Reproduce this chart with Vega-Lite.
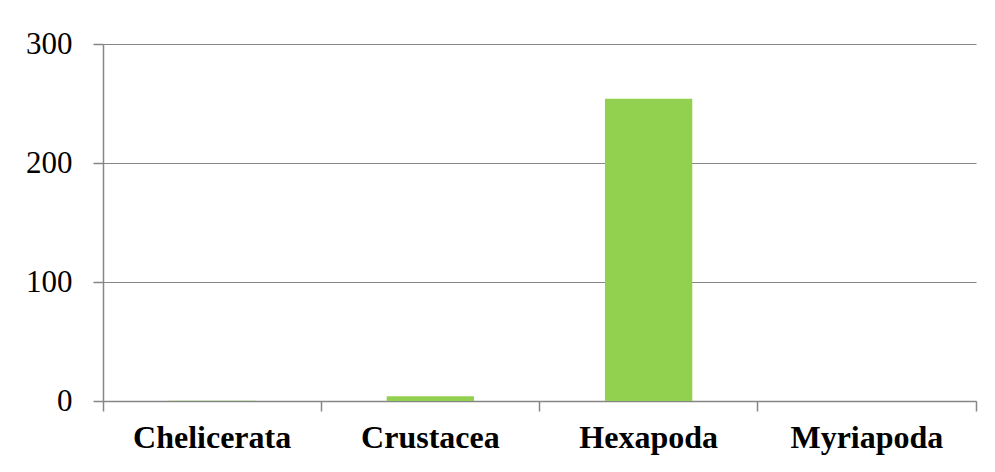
{
  "$schema": "https://vega.github.io/schema/vega-lite/v6.json",
  "width": 873,
  "height": 357,
  "autosize": {"type": "none"},
  "padding": {"left": 103, "top": 44, "right": 19, "bottom": 71},
  "background": "white",
  "data": {"values": [
    {"group": "Chelicerata", "count": 0.3},
    {"group": "Crustacea", "count": 4},
    {"group": "Hexapoda", "count": 254},
    {"group": "Myriapoda", "count": 0}
  ]},
  "mark": {"type": "bar", "color": "#92D050", "width": {"band": 0.4}},
  "encoding": {
    "x": {
      "field": "group", "type": "nominal", "sort": null,
      "scale": {"paddingInner": 0, "paddingOuter": 0},
      "axis": {
        "title": null, "labelAngle": 0,
        "labelFont": "Liberation Serif", "labelFontSize": 32, "labelFontWeight": "bold",
        "labelColor": "#000000", "labelPadding": 11,
        "domainColor": "#868686", "domainWidth": 1.5,
        "tickColor": "#868686", "tickWidth": 1.5, "tickSize": 10,
        "bandPosition": 1, "tickExtra": true
      }
    },
    "y": {
      "field": "count", "type": "quantitative",
      "scale": {"domain": [0, 300], "nice": false},
      "axis": {
        "title": null, "values": [0, 100, 200, 300],
        "labelFont": "Liberation Serif", "labelFontSize": 31,
        "labelColor": "#000000", "labelPadding": 21,
        "domainColor": "#868686", "domainWidth": 1.5,
        "tickColor": "#868686", "tickWidth": 1.5, "tickSize": 10,
        "grid": true, "gridColor": "#868686", "gridWidth": 1.2
      }
    }
  },
  "config": {"view": {"stroke": null}}
}
